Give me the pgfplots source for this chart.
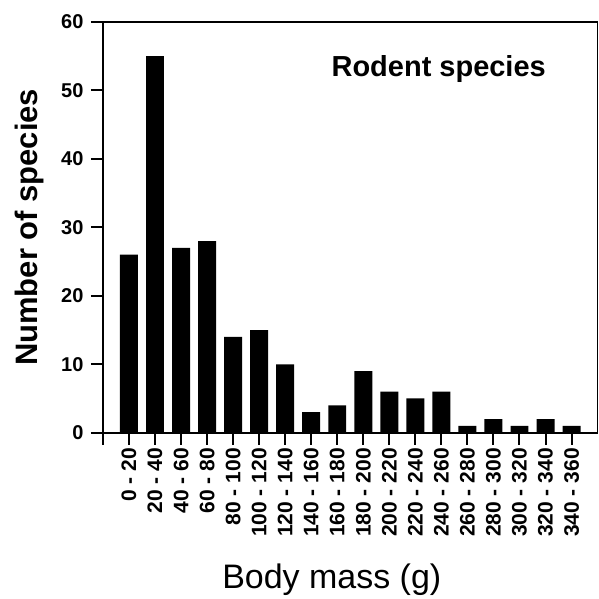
\documentclass[border=0pt]{standalone}
\usepackage{fontspec}
\setmainfont{Liberation Sans}
\usepackage{pgfplots}
\pgfplotsset{compat=1.18}
\begin{document}
\begin{tikzpicture}
\begin{axis}[
  scale only axis,
  width=495pt, height=411pt,
  xmin=-1, xmax=18, ymin=0, ymax=60,
  axis x line=bottom, axis y line=left,
  axis line style={-, line width=2pt},
  tick style={line width=2pt, black},
  tick align=outside,
  major tick length=12pt,
  xtick={-1,0,...,17},
  xticklabels={{},0 - 20,20 - 40,40 - 60,60 - 80,80 - 100,100 - 120,120 - 140,140 - 160,160 - 180,180 - 200,200 - 220,220 - 240,240 - 260,260 - 280,280 - 300,300 - 320,320 - 340,340 - 360},
  x tick label style={rotate=90, anchor=east, font=\fontsize{21}{21}\selectfont\bfseries},
  ytick={0,10,...,60},
  y tick label style={font=\fontsize{20}{20}\selectfont\bfseries, xshift=-4pt},
  /pgf/number format/assume math mode=true,
  xlabel={Body mass (g)},
  xlabel style={at={(axis description cs:0.4626,-0.3796)}, anchor=base, font=\fontsize{34}{34}\selectfont},
  ylabel={\textbf{Number of species}},
  ylabel style={at={(axis description cs:-0.1323,0.5)}, anchor=base, font=\fontsize{31}{31}\selectfont},
  clip=false,
]
\addplot[ybar, bar width=18pt, bar shift=0pt, fill=black, draw=none]
  coordinates {(0,26) (1,55) (2,27) (3,28) (4,14) (5,15) (6,10) (7,3) (8,4) (9,9) (10,6) (11,5) (12,6) (13,1) (14,2) (15,1) (16,2) (17,1)};
\draw[line width=2pt] (axis cs:-1,60) -- (axis cs:18,60);
\draw[line width=0.8pt] (axis cs:18,0) -- (axis cs:18,60);
\node[anchor=base, font=\fontsize{29}{29}\selectfont\bfseries] at (axis description cs:0.6788,0.8662) {Rodent species};
\end{axis}
\path ([xshift=-103pt,yshift=22pt]current axis.north west) rectangle ([xshift=1pt,yshift=-163pt]current axis.south east);
\end{tikzpicture}
\end{document}
